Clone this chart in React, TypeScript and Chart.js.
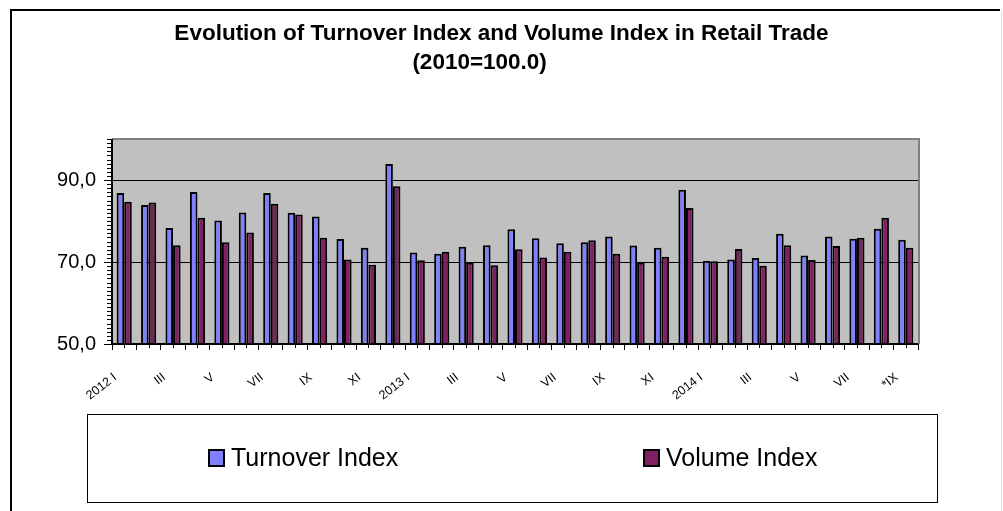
import React, { useEffect, useRef } from "react";
import { Chart, registerables } from "chart.js";

Chart.register(...registerables);

const categories: string[] = [
  "2012 I", "II", "III", "IV", "V", "VI", "VII", "VIII", "IX", "X", "XI", "XII",
  "2013 I", "II", "III", "IV", "V", "VI", "VII", "VIII", "IX", "X", "XI", "XII",
  "2014 I", "II", "III", "IV", "V", "VI", "VII", "VIII", "*IX",
];

const turnoverIndex: number[] = [
  86.8, 83.9, 78.3, 87.1, 80.1, 82.1, 86.8, 82.0, 81.1, 75.6, 73.5, 93.9,
  72.3, 72.0, 73.7, 74.1, 78.0, 75.8, 74.6, 74.8, 76.2, 74.0, 73.5, 87.6,
  70.3, 70.6, 71.0, 76.9, 71.6, 76.2, 75.7, 78.1, 75.4,
];

const volumeIndex: number[] = [
  84.7, 84.5, 74.1, 80.8, 74.8, 77.2, 84.2, 81.6, 75.9, 70.6, 69.3, 88.5,
  70.4, 72.5, 69.8, 69.2, 73.1, 71.1, 72.5, 75.3, 72.0, 69.8, 71.3, 83.2,
  70.2, 73.2, 69.1, 74.1, 70.5, 73.9, 75.9, 80.8, 73.5,
];

const seriesNames: string[] = ["Turnover Index", "Volume Index"];
const seriesColors: string[] = ["#8080FF", "#802060"];

const titleLines: string[] = [
  "Evolution of Turnover Index and Volume Index in Retail Trade",
  "(2010=100.0)       ",
];

const yMin = 50;
const yMax = 100;
const yLabelValues: number[] = [50, 70, 90];
const yGridValues: number[] = [70, 90];

const FONT = "'Liberation Sans', Arial, Helvetica, sans-serif";

const decorPlugin = {
  id: "decor",
  beforeDraw(chart: any) {
    const { ctx, chartArea: a } = chart;
    ctx.save();
    ctx.fillStyle = "#ffffff";
    ctx.fillRect(0, 0, chart.width, chart.height);
    // outer frame
    ctx.strokeStyle = "#000000";
    ctx.lineWidth = 2;
    ctx.beginPath();
    ctx.moveTo(11, chart.height + 5);
    ctx.lineTo(11, 10);
    ctx.lineTo(1000, 10);
    ctx.stroke();
    ctx.strokeStyle = "#dcdcdc";
    ctx.lineWidth = 1;
    ctx.beginPath();
    ctx.moveTo(1001.5, 11);
    ctx.lineTo(1001.5, chart.height + 5);
    ctx.stroke();
    // plot background
    ctx.fillStyle = "#C0C0C0";
    ctx.fillRect(a.left, a.top, a.right - a.left, a.bottom - a.top);
    ctx.restore();
  },
  afterDraw(chart: any) {
    const { ctx, chartArea: a } = chart;
    const ys = chart.scales.y;
    const xs = chart.scales.x;
    ctx.save();
    // gray plot border top/right
    ctx.strokeStyle = "#808080";
    ctx.lineWidth = 2;
    ctx.beginPath();
    ctx.moveTo(a.left, a.top);
    ctx.lineTo(a.right + 1, a.top);
    ctx.lineTo(a.right + 1, a.bottom);
    ctx.stroke();
    // y ticks
    ctx.strokeStyle = "#000000";
    ctx.lineWidth = 1;
    for (let v = yMin; v <= yMax; v++) {
      const y = Math.round(ys.getPixelForValue(v)) + 0.5;
      const len = yLabelValues.includes(v) ? 8 : 5;
      ctx.beginPath();
      ctx.moveTo(a.left - len, y);
      ctx.lineTo(a.left, y);
      ctx.stroke();
    }
    // x minor ticks at category centers
    for (let i = 0; i < categories.length; i++) {
      const x = Math.round(xs.getPixelForValue(i)) + 0.5;
      ctx.beginPath();
      ctx.moveTo(x, a.bottom);
      ctx.lineTo(x, a.bottom + 4);
      ctx.stroke();
    }
    // axis lines
    ctx.lineWidth = 2;
    ctx.beginPath();
    ctx.moveTo(a.left, a.top);
    ctx.lineTo(a.left, a.bottom);
    ctx.lineTo(a.right, a.bottom);
    ctx.stroke();
    // legend box
    ctx.lineWidth = 1;
    ctx.strokeStyle = "#000000";
    ctx.strokeRect(87.5, 414.5, 850, 88);
    const itemX = [208, 643];
    const cy = 458;
    chart.data.datasets.forEach((ds: any, i: number) => {
      const x0 = itemX[i];
      ctx.fillStyle = ds.backgroundColor;
      ctx.fillRect(x0, cy - 9, 17, 18);
      ctx.lineWidth = 2;
      ctx.strokeStyle = "#000000";
      ctx.strokeRect(x0 + 1, cy - 8, 15, 16);
      ctx.fillStyle = "#000000";
      ctx.font = `25px ${FONT}`;
      ctx.textAlign = "left";
      ctx.textBaseline = "middle";
      ctx.fillText(ds.label, x0 + 23, cy + 1);
    });
    ctx.restore();
  },
};

export default function App() {
  const canvasRef = useRef<HTMLCanvasElement | null>(null);

  useEffect(() => {
    if (!canvasRef.current) return;
    const chart = new Chart(canvasRef.current, {
      type: "bar",
      data: {
        labels: categories,
        datasets: [
          {
            label: seriesNames[0],
            data: turnoverIndex,
            backgroundColor: seriesColors[0],
            borderColor: "#000000",
            borderWidth: 2,
            categoryPercentage: 0.62,
            barPercentage: 1.0,
          },
          {
            label: seriesNames[1],
            data: volumeIndex,
            backgroundColor: seriesColors[1],
            borderColor: "#000000",
            borderWidth: 2,
            categoryPercentage: 0.62,
            barPercentage: 1.0,
          },
        ],
      },
      options: {
        responsive: false,
        animation: false,
        devicePixelRatio: 1,
        layout: { padding: { left: 0, right: 0, top: 0, bottom: 107 } },
        plugins: {
          legend: { display: false },
          tooltip: { enabled: false },
          title: {
            display: true,
            text: titleLines,
            color: "#000000",
            font: { family: FONT, size: 22.5, weight: "bold", lineHeight: 29 / 22.5 },
            padding: { top: 19, bottom: 62 },
          },
        },
        scales: {
          x: {
            grid: {
              offset: true,
              drawOnChartArea: false,
              drawTicks: true,
              tickLength: 6,
              tickColor: "#000000",
            },
            border: { display: false },
            ticks: {
              autoSkip: false,
              maxRotation: 38,
              minRotation: 38,
              padding: 20,
              labelOffset: -9,
              color: "#000000",
              font: { family: FONT, size: 12.5 },
              callback: (_v: any, idx: number) => (idx % 2 === 0 ? categories[idx] : ""),
            },
            afterFit: (scale: any) => {
              scale.height = 60;
            },
          },
          y: {
            min: yMin,
            max: yMax,
            border: { display: false },
            grid: {
              drawTicks: false,
              color: (ctx: any) =>
                ctx.tick && yGridValues.includes(ctx.tick.value) ? "#000000" : "rgba(0,0,0,0)",
              lineWidth: 1,
            },
            ticks: {
              stepSize: 1,
              autoSkip: false,
              padding: 16,
              color: "#000000",
              font: { family: FONT, size: 20 },
              callback: (v: any) =>
                yLabelValues.includes(Number(v)) ? Number(v).toFixed(1).replace(".", ",") : "",
            },
            afterFit: (scale: any) => {
              scale.width = 112;
            },
          },
          yRight: {
            position: "right",
            display: true,
            grid: { display: false, drawTicks: false },
            border: { display: false },
            ticks: { display: false },
            afterFit: (scale: any) => {
              scale.width = 85;
            },
          },
        },
      },
      plugins: [decorPlugin],
    });
    return () => chart.destroy();
  }, []);

  return (
    <div style={{ position: "absolute", left: 0, top: 0, width: 1003, height: 511 }}>
      <canvas ref={canvasRef} width={1003} height={511} />
    </div>
  );
}
